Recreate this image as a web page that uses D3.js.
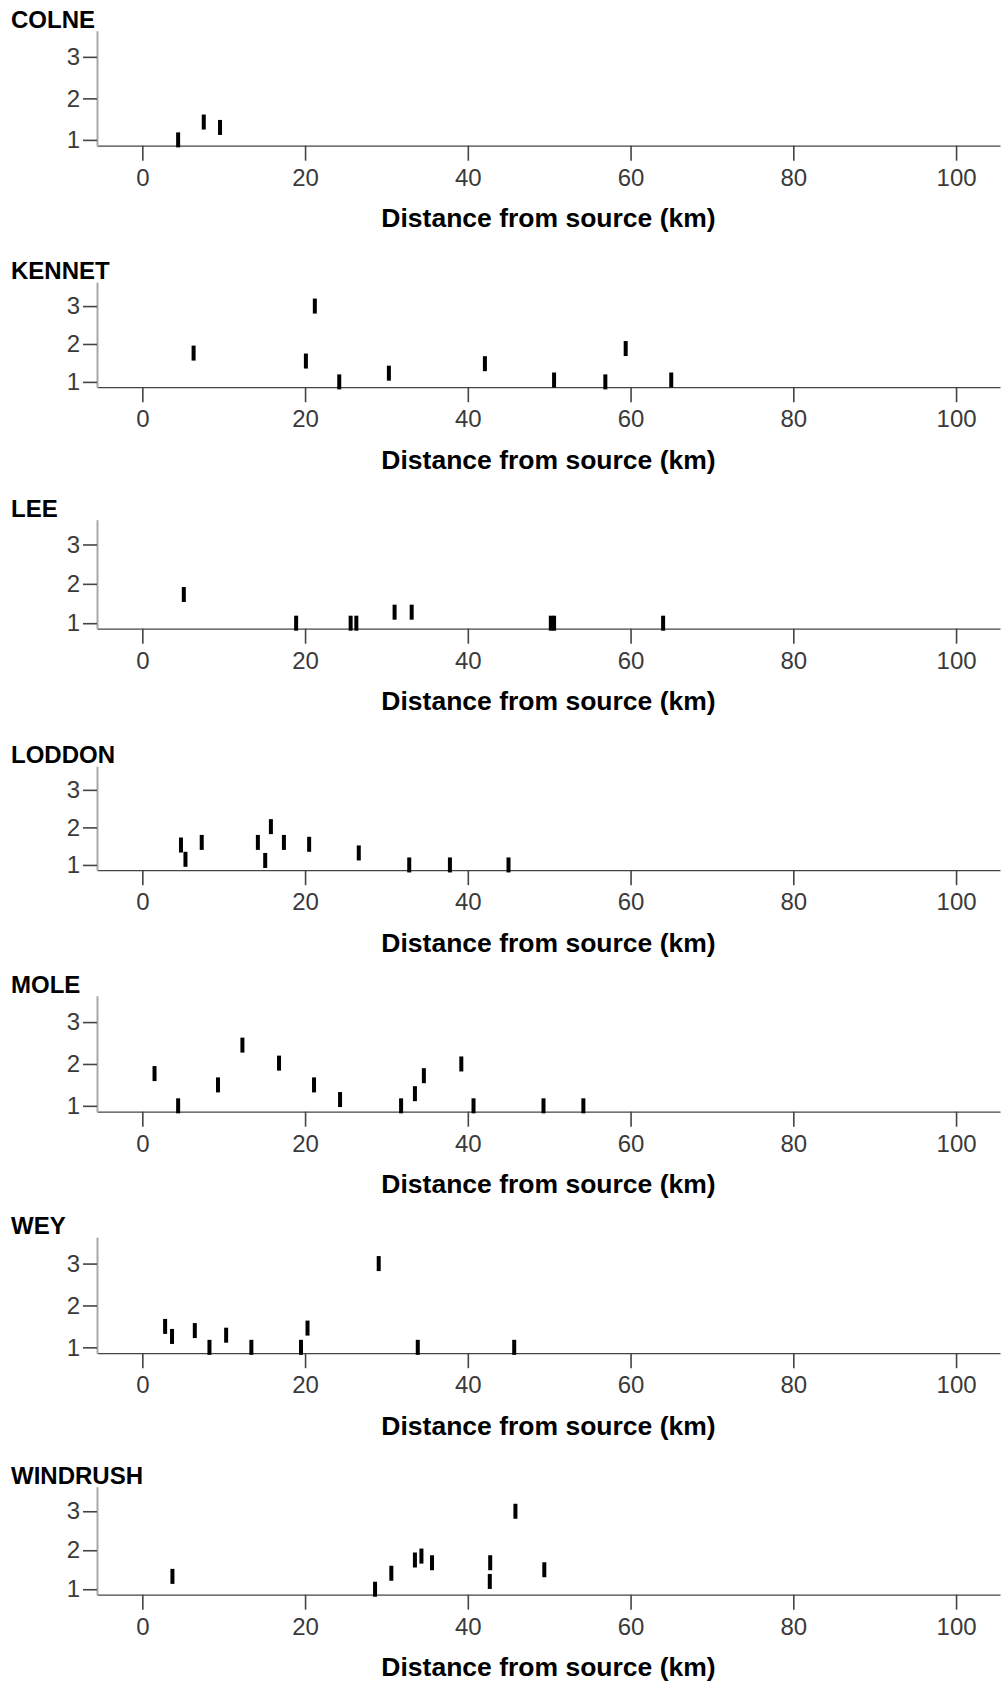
<!DOCTYPE html>
<html>
<head>
<meta charset="utf-8">
<script src="https://cdn.jsdelivr.net/npm/d3@7"></script>
<style>
  body { margin: 0; background: #fff; }
  svg text { font-family: "Liberation Sans", Arial, sans-serif; }
</style>
</head>
<body>
<div id="chart"></div>
<script>
// river names, one panel each
var rivers = ["COLNE", "KENNET", "LEE", "LODDON", "MOLE", "WEY", "WINDRUSH"];

// distance from source (km) and plotted value for each river
var colneKm = [4.4, 7.55, 9.55];
var colneVal = [1.0, 1.43, 1.3];

var kennetKm = [6.3, 21.2, 20.1, 24.2, 30.3, 42.1, 50.6, 56.9, 59.4, 65.0];
var kennetVal = [1.76, 3.0, 1.55, 1.0, 1.23, 1.48, 1.05, 1.0, 1.88, 1.05];

var leeKm = [5.1, 18.9, 25.6, 26.3, 31.0, 33.1, 50.2, 50.6, 64.0];
var leeVal = [1.73, 1.0, 1.0, 1.0, 1.28, 1.28, 1.0, 1.0, 1.0];

var loddonKm = [4.75, 5.3, 7.3, 14.2, 15.1, 15.8, 17.4, 20.5, 26.6, 32.8, 37.8, 45.0];
var loddonVal = [1.53, 1.15, 1.6, 1.6, 1.12, 2.02, 1.6, 1.55, 1.32, 1.0, 1.0, 1.0];

var moleKm = [1.5, 4.4, 9.3, 12.3, 16.8, 21.1, 24.3, 31.8, 33.5, 34.6, 39.2, 40.7, 49.3, 54.2];
var moleVal = [1.77, 1.0, 1.5, 2.45, 2.02, 1.5, 1.15, 1.0, 1.29, 1.72, 2.0, 1.0, 1.0, 1.0];

var weyKm = [2.8, 3.65, 6.45, 8.25, 10.3, 13.4, 19.5, 20.3, 29.05, 33.85, 45.7];
var weyVal = [1.5, 1.26, 1.4, 1.0, 1.29, 1.0, 1.0, 1.46, 3.0, 1.0, 1.0];

var windrushKm = [3.7, 28.6, 30.6, 33.5, 34.3, 35.6, 42.75, 42.7, 45.85, 49.4];
var windrushVal = [1.33, 1.0, 1.41, 1.75, 1.85, 1.68, 1.68, 1.2, 3.0, 1.5];

var xTicks = [0, 20, 40, 60, 80, 100];
var yTicks = [1, 2, 3];
var xTitle = "Distance from source (km)";

var allKm = [colneKm, kennetKm, leeKm, loddonKm, moleKm, weyKm, windrushKm];
var allVal = [colneVal, kennetVal, leeVal, loddonVal, moleVal, weyVal, windrushVal];

// layout
var svgWidth = 1007;
var svgHeight = 1686;
var firstAxisY = 145.7;
var panelStep = 241.5;
var plotHeights = [115, 105, 109, 104, 116, 116, 108];
var plotLeft = 97;
var plotRight = 1000;

var svg = d3.select("#chart")
  .append("svg")
  .attr("width", svgWidth)
  .attr("height", svgHeight);

var xScale = d3.scaleLinear()
  .domain([-5.57, 105.4])
  .range([plotLeft, plotRight]);

rivers.forEach(function (name, i) {
  var axisY = firstAxisY + i * panelStep;
  var h = plotHeights[i];

  var yScale = d3.scaleLinear()
    .domain([0.86, 3.63])
    .range([axisY, axisY - h]);

  var points = allKm[i].map(function (km, j) {
    return { km: km, val: allVal[i][j] };
  });

  var panel = svg.append("g");

  // x axis
  var xg = panel.append("g")
    .attr("transform", `translate(0, ${axisY})`)
    .call(d3.axisBottom(xScale).tickValues(xTicks).tickFormat(d3.format("d"))
      .tickSize(15).tickPadding(8).tickSizeOuter(0));
  xg.select(".domain").attr("stroke", "#444").attr("stroke-width", 1.3);
  xg.selectAll(".tick line").attr("stroke", "#444").attr("stroke-width", 1.6);
  xg.selectAll(".tick text").attr("font-size", 24).attr("fill", "#3a3a3a")
    .style("font-family", "'Liberation Sans', Arial, sans-serif");

  // y axis
  var yg = panel.append("g")
    .attr("transform", `translate(${plotLeft}, 0)`)
    .call(d3.axisLeft(yScale).tickValues(yTicks).tickFormat(d3.format("d"))
      .tickSize(14).tickPadding(3).tickSizeOuter(0));
  yg.select(".domain").attr("stroke", "#a8a8a8").attr("stroke-width", 2);
  yg.selectAll(".tick line").attr("stroke", "#444").attr("stroke-width", 1.6);
  yg.selectAll(".tick text").attr("font-size", 24).attr("fill", "#3a3a3a")
    .style("font-family", "'Liberation Sans', Arial, sans-serif");

  // markers: short vertical bars
  panel.selectAll("rect.mark")
    .data(points)
    .enter()
    .append("rect")
    .attr("class", "mark")
    .attr("x", d => xScale(d.km) - 2)
    .attr("y", d => yScale(d.val) - 7.5)
    .attr("width", 4)
    .attr("height", 15)
    .attr("fill", "#000");

  // panel label
  panel.append("text")
    .attr("x", 11)
    .attr("y", axisY - h - 3)
    .attr("font-size", 24)
    .attr("font-weight", "bold")
    .attr("fill", "#000")
    .text(name);

  // axis title
  panel.append("text")
    .attr("x", (plotLeft + plotRight) / 2)
    .attr("y", axisY + 81.5)
    .attr("text-anchor", "middle")
    .attr("font-size", 26.5)
    .attr("font-weight", "bold")
    .attr("fill", "#000")
    .text(xTitle);
});
</script>
</body>
</html>
